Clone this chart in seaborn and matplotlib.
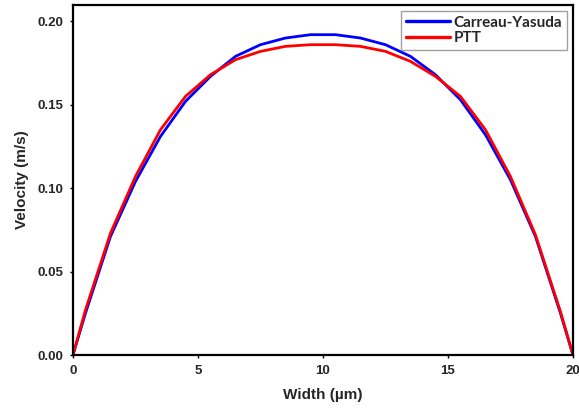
import numpy as np
import pandas as pd
import matplotlib
matplotlib.use("Agg")
import matplotlib.pyplot as plt
import seaborn as sns

width = [0, 0.5, 1.5, 2.5, 3.5, 4.5, 5.5, 6.5, 7.5, 8.5, 9.5, 10.5, 11.5, 12.5, 13.5, 14.5, 15.5, 16.5, 17.5, 18.5, 19.5, 20]
carreau = [0, 0.025, 0.071, 0.104, 0.131, 0.152, 0.167, 0.179, 0.186, 0.190, 0.192, 0.192, 0.190, 0.186, 0.179, 0.168, 0.153, 0.132, 0.105, 0.071, 0.025, 0]
ptt = [0, 0.027, 0.073, 0.107, 0.135, 0.155, 0.168, 0.177, 0.182, 0.185, 0.186, 0.186, 0.185, 0.182, 0.176, 0.167, 0.155, 0.135, 0.107, 0.072, 0.026, 0]
series_names = ["Carreau-Yasuda", "PTT"]
xticks = [0, 5, 10, 15, 20]
yticks = [0.00, 0.05, 0.10, 0.15, 0.20]

df = pd.concat([
    pd.DataFrame({"Width": width, "Velocity": carreau, "Model": series_names[0]}),
    pd.DataFrame({"Width": width, "Velocity": ptt, "Model": series_names[1]}),
])

sns.set_style("white")
plt.rcParams["font.family"] = ["Liberation Sans", "DejaVu Sans"]

fig = plt.figure(figsize=(5.79, 4.09), dpi=100)
ax = fig.add_axes([0.126, 0.132, 0.8636, 0.8558])
sns.lineplot(data=df, x="Width", y="Velocity", hue="Model",
             palette={"Carreau-Yasuda": "#0000ff", "PTT": "#ff0000"},
             linewidth=2.0, ax=ax, sort=False)

ax.set_xlim(0, 20)
ax.set_ylim(0, 0.2098)
ax.set_xticks(xticks)
ax.set_yticks(yticks)
ax.set_xticklabels([str(t) for t in xticks], fontweight="bold", fontsize=9.5)
ax.set_yticklabels([f"{t:.2f}" for t in yticks], fontweight="bold", fontsize=9.5)
ax.tick_params(axis="both", direction="out", length=2, width=1, color="black", pad=5, left=True, bottom=True)
for s in ax.spines.values():
    s.set_color("black")
    s.set_linewidth(1.6)
ax.set_xlabel("Width (µm)", fontweight="bold", fontsize=11, labelpad=8)
ax.set_ylabel("Velocity (m/s)", fontweight="bold", fontsize=11, labelpad=6)

leg = ax.legend(title=None, loc="upper right", prop={"family": "Lato", "weight": "bold", "size": 11},
                frameon=True, fancybox=False, edgecolor="#888888", borderpad=0.3,
                handlelength=2.9, handletextpad=0.25, labelspacing=0.1, borderaxespad=0.4)
leg.get_frame().set_linewidth(1.0)
for line in leg.get_lines():
    line.set_linewidth(2.4)

fig.savefig("out.png", dpi=100, facecolor="white")
